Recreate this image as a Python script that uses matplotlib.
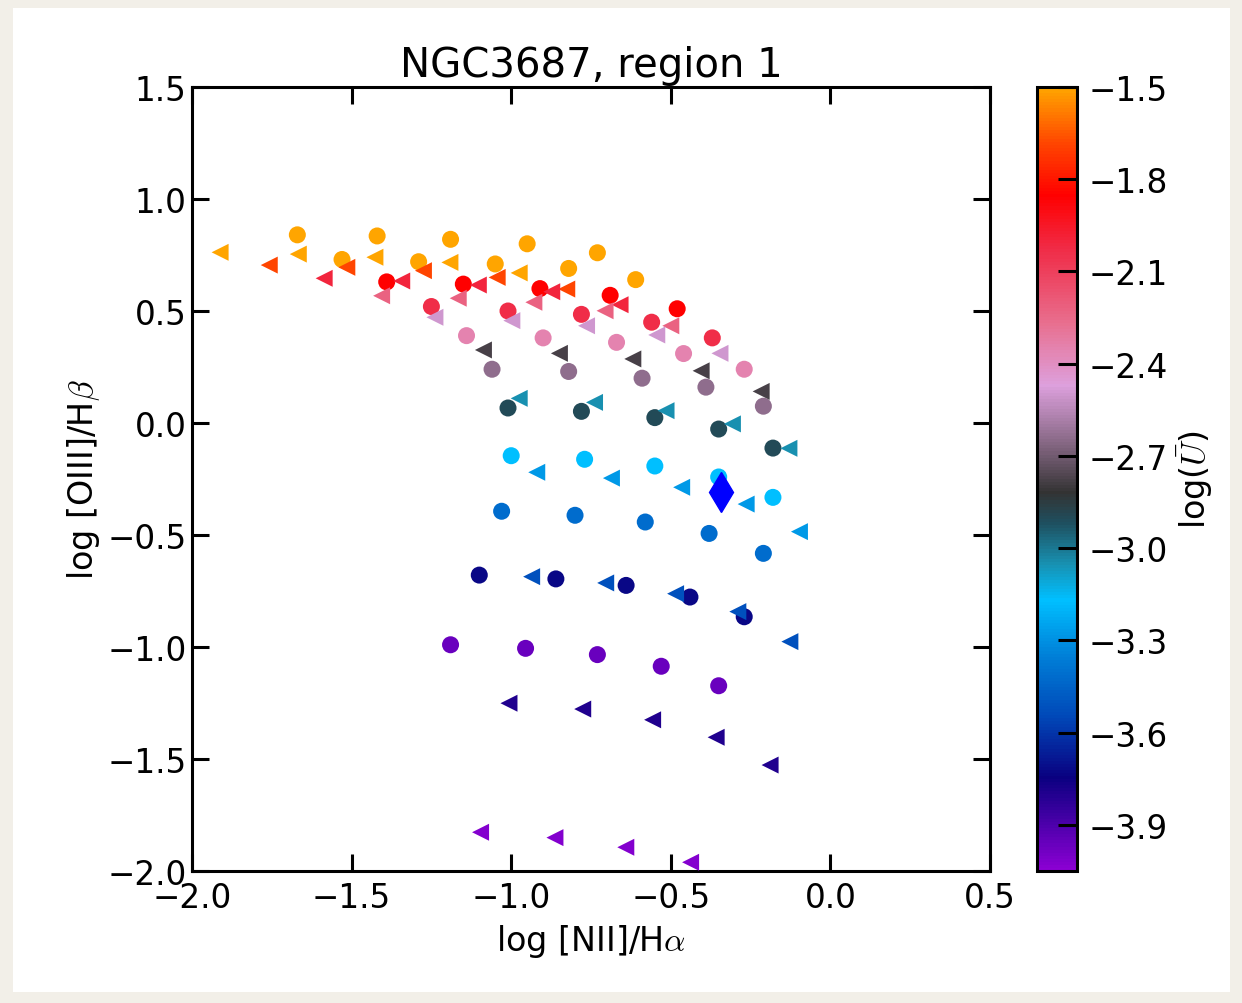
import numpy as np
import matplotlib
matplotlib.use("Agg")
import matplotlib.pyplot as plt
from matplotlib.colors import LinearSegmentedColormap, Normalize
from matplotlib.patches import Rectangle

plt.rcParams['mathtext.fontset'] = 'cm'

# ---------------- data ----------------
# circles: one row per ionisation parameter
circ_logU = [-1.5, -1.5, -1.85, -2.03, -2.35, -2.64, -2.9, -3.17, -3.42, -3.73, -3.97]
circ_x = [
    [-1.67, -1.42, -1.19, -0.95, -0.73],
    [-1.53, -1.29, -1.05, -0.82, -0.61],
    [-1.39, -1.15, -0.91, -0.69, -0.48],
    [-1.25, -1.01, -0.78, -0.56, -0.37],
    [-1.14, -0.90, -0.67, -0.46, -0.27],
    [-1.06, -0.82, -0.59, -0.39, -0.21],
    [-1.01, -0.78, -0.55, -0.35, -0.18],
    [-1.00, -0.77, -0.55, -0.35, -0.18],
    [-1.03, -0.80, -0.58, -0.38, -0.21],
    [-1.10, -0.86, -0.64, -0.44, -0.27],
    [-1.19, -0.955, -0.73, -0.53, -0.35],
]
circ_y = [
    [0.84, 0.835, 0.82, 0.80, 0.76],
    [0.73, 0.72, 0.71, 0.69, 0.64],
    [0.63, 0.62, 0.60, 0.57, 0.51],
    [0.52, 0.50, 0.485, 0.45, 0.38],
    [0.39, 0.38, 0.36, 0.31, 0.24],
    [0.24, 0.23, 0.20, 0.16, 0.075],
    [0.067, 0.052, 0.024, -0.027, -0.112],
    [-0.146, -0.162, -0.192, -0.241, -0.332],
    [-0.394, -0.412, -0.442, -0.493, -0.582],
    [-0.679, -0.696, -0.725, -0.777, -0.865],
    [-0.99, -1.006, -1.034, -1.086, -1.173],
]

# triangles: second model grid
tri_logU = [-1.5, -1.68, -2.0, -2.22, -2.5, -2.78, -3.05, -3.28, -3.52, -3.8, -4.03]
tri_x = [
    [-1.912, -1.667, -1.427, -1.192, -0.975],
    [-1.758, -1.515, -1.275, -1.044, -0.826],
    [-1.586, -1.343, -1.103, -0.873, -0.659],
    [-1.406, -1.166, -0.929, -0.706, -0.500],
    [-1.239, -0.998, -0.764, -0.544, -0.346],
    [-1.087, -0.849, -0.619, -0.405, -0.217],
    [-0.975, -0.739, -0.515, -0.307, -0.130],
    [-0.920, -0.686, -0.466, -0.264, -0.097],
    [-0.936, -0.704, -0.485, -0.290, -0.127],
    [-1.007, -0.776, -0.557, -0.358, -0.189],
    [-1.096, -0.863, -0.641, -0.438],
]
tri_y = [
    [0.762, 0.754, 0.740, 0.717, 0.670],
    [0.705, 0.695, 0.680, 0.650, 0.598],
    [0.646, 0.634, 0.616, 0.586, 0.528],
    [0.568, 0.557, 0.539, 0.501, 0.434],
    [0.472, 0.457, 0.434, 0.393, 0.311],
    [0.326, 0.311, 0.286, 0.233, 0.141],
    [0.110, 0.092, 0.055, -0.004, -0.113],
    [-0.220, -0.246, -0.287, -0.362, -0.485],
    [-0.686, -0.714, -0.762, -0.842, -0.976],
    [-1.251, -1.277, -1.325, -1.403, -1.527],
    [-1.827, -1.851, -1.894, -1.961],
]

# observed region
obs_x = [-0.343]
obs_y = [-0.309]

title = "NGC3687, region 1"
xticks = [-2.0, -1.5, -1.0, -0.5, 0.0, 0.5]
yticks = [-2.0, -1.5, -1.0, -0.5, 0.0, 0.5, 1.0, 1.5]
cbar_ticks = [-1.5, -1.8, -2.1, -2.4, -2.7, -3.0, -3.3, -3.6, -3.9]
vmin, vmax = -4.05, -1.5

# ---------------- colormap ----------------
anchors = [
    (-4.05, '#8c00d4'),
    (-3.75, '#0a0080'),
    (-3.55, '#0048b8'),
    (-3.35, '#0080d8'),
    (-3.17, '#00bfff'),
    (-3.05, '#1890b0'),
    (-2.92, '#1e5060'),
    (-2.82, '#333333'),
    (-2.65, '#8a6a88'),
    (-2.47, '#dda0dd'),
    (-2.27, '#e87090'),
    (-2.02, '#f02a45'),
    (-1.85, '#ff0000'),
    (-1.68, '#ff4500'),
    (-1.5, '#ffa500'),
]
cmap = LinearSegmentedColormap.from_list(
    'logU', [((v - vmin) / (vmax - vmin), c) for v, c in anchors])
norm = Normalize(vmin=vmin, vmax=vmax)

# ---------------- figure ----------------
W, H = 1242, 1004
fig = plt.figure(figsize=(W / 100, H / 100), dpi=100)
fig.patch.set_facecolor('#f2efe8')
card = Rectangle((13 / W, 1 - 993 / H), (1230 - 13) / W, (993 - 9) / H,
                 transform=fig.transFigure, facecolor='white',
                 edgecolor='none', zorder=-10)
fig.add_artist(card)

ax = fig.add_axes([192 / W, 1 - 872 / H, (990 - 192) / W, (872 - 88) / H])
ax.set_facecolor('white')

for xs, ys, u in zip(circ_x, circ_y, circ_logU):
    ax.scatter(xs, ys, c=[u] * len(xs), cmap=cmap, norm=norm, marker='o',
               s=150, edgecolors='none', zorder=2)
sc = None
for xs, ys, u in zip(tri_x, tri_y, tri_logU):
    sc = ax.scatter(xs, ys, c=[u] * len(xs), cmap=cmap, norm=norm, marker='<',
                    s=150, edgecolors='none', zorder=3)
ax.plot(obs_x, obs_y, marker='d', ms=20.5, color='#0000ff', mec='#0000ff',
        ls='none', zorder=4)

ax.set_xlim(-2.0, 0.5)
ax.set_ylim(-2.0, 1.5)
ax.set_xticks(xticks)
ax.set_yticks(yticks)
ax.set_xticklabels([f"{t:.1f}".replace('-', '\u2212') for t in xticks])
ax.set_yticklabels([f"{t:.1f}".replace('-', '\u2212') for t in yticks])
ax.tick_params(direction='in', length=12.5, width=2.2, labelsize=23.5,
               top=True, right=True, pad=4)
ax.tick_params(axis='x', pad=7)
for sp in ax.spines.values():
    sp.set_linewidth(2.2)

ax.set_xlabel(r'log [NII]/H$\alpha$', fontsize=24, labelpad=6)
ax.set_ylabel(r'log [OIII]/H$\beta$', fontsize=24, labelpad=4)
ax.set_title(title, fontsize=29, pad=8)

cax = fig.add_axes([1037 / W, 1 - 872 / H, 40 / W, (872 - 88) / H])
cb = fig.colorbar(sc, cax=cax)
cb.set_ticks(cbar_ticks)
cb.set_ticklabels([f"{t:.1f}".replace('-', '\u2212') for t in cbar_ticks])
cb.ax.tick_params(direction='in', length=14, width=2.2, labelsize=23.5, pad=8)
cb.outline.set_linewidth(2.2)
cb.set_label(r'log($\bar{U}$)', fontsize=24, labelpad=6)

fig.savefig('out.png', dpi=100, facecolor=fig.get_facecolor())
